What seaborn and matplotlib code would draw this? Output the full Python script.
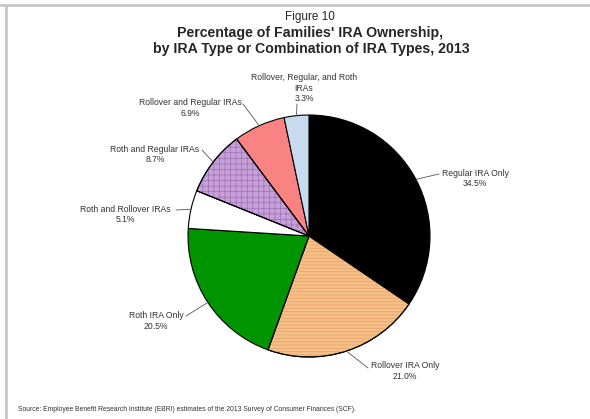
import numpy as np
import seaborn as sns
import matplotlib.pyplot as plt
from matplotlib.patches import Wedge
from matplotlib.lines import Line2D

# IRA ownership shares, 2013 (clockwise from 12 o'clock)
labels = ["Regular IRA Only", "Rollover IRA Only", "Roth IRA Only",
          "Roth and Rollover IRAs", "Roth and Regular IRAs",
          "Rollover and Regular IRAs", "Rollover, Regular, and Roth\nIRAs"]
shares = [34.5, 21.0, 20.5, 5.1, 8.7, 6.9, 3.3]
colors = ["#000000", "#f6bf88", "#009400", "#ffffff", "#c7a0d8", "#f98382", "#c7daf0"]
hatches = [None, "-----", None, None, "+++", None, None]
hatch_colors = [None, "#e6a366", None, None, "#9c70b4", None, None]

# label placement in pixels (text centre x, first line y, leader end x, y)
label_pos = [(475, 173, 439, 174),
             (405, 366, 368, 368),
             (156, 316, 186, 316),
             (125, 209, 176, 210),
             (155, 149, 202, 150),
             (190, 103, 243, 104),
             (304, 78, 297, 104)]

sns.set_theme(style="white")
plt.rcParams['font.family'] = ['Liberation Sans', 'DejaVu Sans']
plt.rcParams['hatch.linewidth'] = 0.5

W, H = 590, 419
cx, cy, R = 309, 236, 121
fig = plt.figure(figsize=(W / 100, H / 100), dpi=100)
ax = fig.add_axes([0, 0, 1, 1])


def px(x, y):
    return (x - cx) / R, (cy - y) / R


wedges, _ = ax.pie(shares, colors=colors, startangle=90, counterclock=False,
                   radius=1, wedgeprops=dict(edgecolor="black", linewidth=0.8))
ax.set_xlim(-cx / R, (W - cx) / R)
ax.set_ylim(-(H - cy) / R, cy / R)
ax.set_aspect("equal")
ax.axis("off")

for w, h, hc in zip(wedges, hatches, hatch_colors):
    if h:
        ax.add_patch(Wedge(w.center, w.r, w.theta1, w.theta2, facecolor="none",
                           edgecolor=hc, linewidth=0, hatch=h, zorder=1.5))
        ax.add_patch(Wedge(w.center, w.r, w.theta1, w.theta2, facecolor="none",
                           edgecolor="black", linewidth=0.8, zorder=1.6))

for w, lab, val, (tx, ty, lx, ly) in zip(wedges, labels, shares, label_pos):
    mid = np.deg2rad((w.theta1 + w.theta2) / 2)
    ex, ey = np.cos(mid), np.sin(mid)
    ax.plot([ex, px(lx, ly)[0]], [ey, px(lx, ly)[1]], color="#555555", lw=0.6)
    x0, y0 = px(tx, ty - 4.5)
    ax.text(x0, y0, f"{lab}\n{val:.1f}%", ha="center", va="top", fontsize=6.2,
            color="#333333", linespacing=1.2)

fig.text(310 / W, 1 - 17 / H, "Figure 10", ha="center", va="center", fontsize=8.5)
fig.text(310 / W, 1 - 33 / H, "Percentage of Families' IRA Ownership,", ha="center",
         va="center", fontsize=10.2, fontweight="bold")
fig.text(311 / W, 1 - 49 / H, "by IRA Type or Combination of IRA Types, 2013",
         ha="center", va="center", fontsize=10.2, fontweight="bold")
fig.text(18 / W, 1 - 409 / H,
         "Source: Employee Benefit Research Institute (EBRI) estimates of the 2013 "
         "Survey of Consumer Finances (SCF).", ha="left", va="center", fontsize=4.9,
         color="#333333")

# frame lines (top and left)
fig.add_artist(Line2D([0, 1], [1 - 5 / H, 1 - 5 / H], transform=fig.transFigure,
                      color="#c8c8c8", lw=2))
fig.add_artist(Line2D([6 / W, 6 / W], [0, 1 - 5 / H], transform=fig.transFigure,
                      color="#c8c8c8", lw=2))

fig.savefig("out.png", dpi=100)
